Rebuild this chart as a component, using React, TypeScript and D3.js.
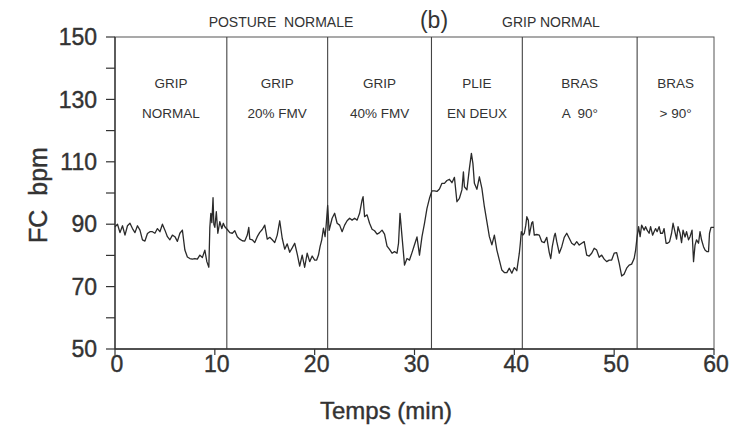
import React from "react";
import * as d3 from "d3";

// ---- data ----
const timeMin: number[] = [
  0, 0.25, 0.5, 0.75, 1.0, 1.25, 1.5, 1.75, 2.0, 2.25, 2.5, 2.75, 3.0, 3.25, 3.5, 3.75, 4.0, 4.25, 4.5, 4.75,
  5.0, 5.25, 5.5, 5.75, 6.0, 6.25, 6.5, 6.75, 7.0, 7.25, 7.5, 7.75, 8.0, 8.25, 8.5, 8.75, 9.0, 9.2, 9.4, 9.5,
  9.6, 9.7, 9.82, 9.9, 10.0, 10.15, 10.3, 10.5, 10.7, 10.85, 11.0, 11.25,
  11.5, 11.75, 12.0, 12.25, 12.5, 12.75, 13.0, 13.25, 13.4, 13.5, 13.75, 14.0, 14.25, 14.5, 14.75, 15.0,
  15.25, 15.5, 15.75, 16.0, 16.25, 16.5, 16.75, 17.0, 17.25, 17.5, 17.75, 18.0, 18.25, 18.5, 18.75, 19.0,
  19.25, 19.5, 19.75, 20.0, 20.2, 20.38, 20.54, 20.71, 20.88, 21.04, 21.14, 21.3, 21.45,
  21.5, 21.75, 22.0, 22.25, 22.5, 22.75, 23.0, 23.25, 23.5, 23.75, 24.0, 24.25, 24.5, 24.75, 24.85, 25.0,
  25.25, 25.5, 25.75, 26.0, 26.25, 26.5, 26.75, 27.0, 27.25, 27.5, 27.75, 28.0, 28.25, 28.4, 28.55, 28.75,
  29.0, 29.25, 29.5, 29.75, 30.0, 30.25, 30.5, 30.75, 31.0, 31.25, 31.5, 31.75,
  32.0, 32.25, 32.5, 32.75, 33.0, 33.25, 33.5, 33.75, 34.0, 34.25, 34.5, 34.75, 34.9, 35.0, 35.25, 35.5,
  35.7, 35.85, 36.0, 36.25, 36.5, 36.75, 37.0, 37.25, 37.5, 37.75, 38.0, 38.25, 38.5, 38.75, 39.0, 39.25,
  39.5, 39.75, 40.0, 40.25, 40.5, 40.6, 40.7, 40.85,
  41.0, 41.15, 41.25, 41.4, 41.5, 41.75, 41.85, 42.0, 42.25, 42.5, 42.75, 43.0, 43.25, 43.5, 43.65, 43.8,
  44.0, 44.1, 44.25, 44.5, 44.75, 45.0, 45.25, 45.5, 45.75, 46.0, 46.25, 46.5, 46.75, 47.0, 47.25, 47.5,
  47.75, 48.0, 48.25, 48.5, 48.75, 49.0, 49.25, 49.5, 49.75, 50.0, 50.25, 50.5, 50.75, 51.0, 51.25, 51.5,
  51.75, 52.0, 52.15,
  52.3, 52.45, 52.6, 52.75, 53.0, 53.15, 53.3, 53.5, 53.65, 53.85, 54.0, 54.15, 54.3, 54.5, 54.65, 54.85,
  55.0, 55.2, 55.35, 55.55, 55.75, 55.9, 56.05, 56.25, 56.4, 56.6, 56.75, 56.9, 57.1, 57.25, 57.45, 57.6,
  57.8, 57.95, 58.1, 58.25, 58.45, 58.6, 58.75, 58.95, 59.1, 59.3, 59.45, 59.55, 59.7, 60.0,
];

const heartRate: number[] = [
  89.2, 90, 87.3, 89.5, 86.5, 89.5, 90.3, 88.6, 87.3, 89.5, 88.1, 85.0, 84.6, 87, 87.6, 87.6, 87.1, 88.6, 87.6, 90,
  88.1, 86.0, 85.0, 86.5, 86, 84.5, 87.1, 88.1, 81.7, 79.5, 79, 78.8, 79, 78.8, 80.1, 79.3, 81.7, 78, 76.2, 89,
  93.5, 90.5, 98.5, 90, 89, 94, 87.1, 90.8, 88.6, 90.3, 89.2, 88.3,
  87.3, 87.1, 87.9, 86, 85.2, 84.7, 84.6, 86.5, 89, 85.2, 85, 84.1, 86, 87.4, 88.3, 89.7,
  85.2, 85.8, 85, 84.1, 86.5, 91.1, 85.5, 82, 83.7, 81, 82.4, 83.9, 80.5, 76.6, 80.1, 76.2,
  80.7, 78.0, 79.8, 78.5, 78.5, 80.1, 82.8, 85, 88.7, 86, 89.2, 96, 88,
  88.7, 91.9, 93.5, 90.3, 89.7, 87.6, 89.7, 91.1, 91.9, 91.3, 91.9, 91.3, 93.5, 97.8, 98.8, 92.4,
  93, 90.3, 88.4, 87.9, 86.8, 87.3, 88.1, 86.8, 83, 81.9, 80.7, 81.2, 80.7, 83.9, 93.5, 86,
  76.9, 79, 78.5, 80.9, 83.4, 85.9, 80.1, 86, 90.3, 95.1, 98.3, 100.7,
  100.7, 100.5, 101.3, 103.1, 103.1, 104, 104.4, 103.3, 105, 97.2, 98.3, 101, 106.8, 102, 101, 107.9,
  112.7, 109.5, 103.1, 101.2, 105.2, 101.5, 95.6, 90.8, 86, 83.4, 86.5, 81.7, 78.5, 75.3, 74.5, 74.5,
  75.9, 74.3, 76.1, 75.1, 80.7, 83.9, 87.6, 86.5,
  87.1, 89.7, 92.4, 91.3, 86.5, 90.5, 90.8, 86.5, 86.7, 86.5, 84.4, 84.1, 85.8, 80.9, 79, 82.8,
  86.2, 87.1, 84.4, 80.7, 82.8, 85.8, 87.1, 85.5, 83.9, 83.3, 84.4, 83.3, 83.9, 84.4, 80.1, 79.8,
  80.7, 82.3, 81.7, 79.4, 80.1, 78.8, 78, 78.5, 78.5, 80.7, 80.9, 77.5, 73.4, 74, 75.9, 76.9,
  77.2, 79, 81.7,
  86, 89.2, 86, 89.7, 88.1, 89.2, 88.1, 87.1, 89.2, 86.5, 87.6, 88.6, 87.6, 89.2, 87.1, 87.1,
  88.6, 83.9, 83.9, 84.4, 87.1, 90.3, 88.1, 85.2, 89.2, 87.1, 84.1, 88.1, 85.9, 87.6, 85, 86,
  88.1, 78, 83.3, 85, 83.9, 87.6, 85, 82.8, 81.7, 81.2, 81.2, 87.1, 89, 89,
];

const sectionBounds: number[] = [0, 11.2, 21.3, 31.7, 40.8, 52.3, 60];
const sectionLine1: string[] = ["GRIP", "GRIP", "GRIP", "PLIE", "BRAS", "BRAS"];
const sectionLine2: string[] = ["NORMAL", "20% FMV", "40% FMV", "EN DEUX", "A  90°", "> 90°"];

const yMajorTicks: number[] = [50, 70, 90, 110, 130, 150];
const yMinorTicks: number[] = [60, 80, 100, 120, 140];
const xTicks: number[] = [0, 10, 20, 30, 40, 50, 60];

const FONT = "'Liberation Sans', Arial, Helvetica, sans-serif";
const INK = "#333";

export default function App() {
  const W = 732, H = 441;
  const left = 115, right = 714, top = 37, bottom = 349;
  const x = d3.scaleLinear().domain([0, 60]).range([left, right]);
  const y = d3.scaleLinear().domain([50, 150]).range([bottom, top]);

  const pts: [number, number][] = timeMin.map((t, i) => [t, heartRate[i]]);
  const line = d3.line<[number, number]>().x(d => x(d[0])).y(d => y(d[1]));

  return (
    <svg width={W} height={H} style={{ position: "absolute", left: 0, top: 0, background: "#fff" }}>
      <rect x={0} y={0} width={W} height={H} fill="#fff" />
      {/* top titles */}
      <text x={281} y={27} fontFamily={FONT} fontSize={14} textAnchor="middle" fill={INK} xmlSpace="preserve">POSTURE  NORMALE</text>
      <text x={434} y={28} fontFamily={FONT} fontSize={23} textAnchor="middle" fill={INK}>(b)</text>
      <text x={551} y={27} fontFamily={FONT} fontSize={14} textAnchor="middle" fill={INK}>GRIP NORMAL</text>

      {/* frame */}
      <rect x={left} y={top} width={right - left} height={bottom - top} fill="none" stroke="#555" strokeWidth={1} />

      {/* section dividers */}
      {sectionBounds.slice(1, -1).map((b, i) => (
        <line key={"d" + i} x1={x(b)} x2={x(b)} y1={top} y2={bottom} stroke="#444" strokeWidth={1.1} />
      ))}

      {/* section labels */}
      {sectionLine1.map((s, i) => {
        const cx = (x(sectionBounds[i]) + x(sectionBounds[i + 1])) / 2;
        return (
          <g key={"s" + i} fontFamily={FONT} fontSize={13.5} fill={INK} textAnchor="middle">
            <text x={cx} y={88}>{s}</text>
            <text x={cx} y={118} xmlSpace="preserve">{sectionLine2[i]}</text>
          </g>
        );
      })}

      {/* y axis */}
      <line x1={left} x2={left} y1={top} y2={bottom} stroke="#333" strokeWidth={1.3} />
      {yMajorTicks.map(v => (
        <g key={"ym" + v}>
          <line x1={left - 9} x2={left} y1={y(v)} y2={y(v)} stroke="#333" strokeWidth={1.2} />
          <text x={97} y={y(v)} dy="0.36em" fontFamily={FONT} fontSize={23} textAnchor="end" fill={INK} stroke={INK} strokeWidth={0.4}>{v}</text>
        </g>
      ))}
      {yMinorTicks.map(v => (
        <line key={"yn" + v} x1={left - 9} x2={left} y1={y(v)} y2={y(v)} stroke="#333" strokeWidth={1.2} />
      ))}

      {/* x axis */}
      <line x1={left} x2={right} y1={bottom} y2={bottom} stroke="#333" strokeWidth={1.3} />
      {xTicks.map(t => (
        <g key={"xt" + t}>
          <line x1={x(t)} x2={x(t)} y1={bottom} y2={bottom + 6} stroke="#333" strokeWidth={1.2} />
          <text x={x(t) + 2} y={372} fontFamily={FONT} fontSize={23} textAnchor="middle" fill={INK} stroke={INK} strokeWidth={0.4}>{t}</text>
        </g>
      ))}

      {/* axis titles */}
      <text x={386} y={419} fontFamily={FONT} fontSize={24} textAnchor="middle" fill={INK} stroke={INK} strokeWidth={0.4}>Temps (min)</text>
      <text transform="translate(47,195) rotate(-90)" fontFamily={FONT} fontSize={25} textAnchor="middle" fill={INK} stroke={INK} strokeWidth={0.4} xmlSpace="preserve">FC  bpm</text>

      {/* trace */}
      <path d={line(pts) || ""} fill="none" stroke="#2a2a2a" strokeWidth={1.3} strokeLinejoin="round" />
    </svg>
  );
}
